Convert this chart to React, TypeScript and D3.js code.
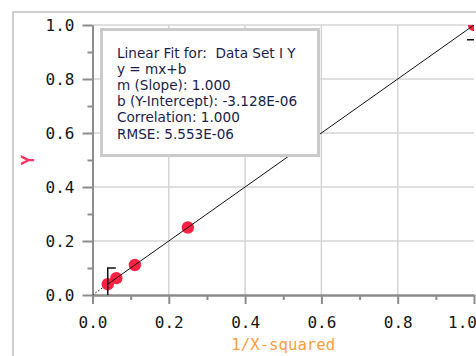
import React, { useEffect, useRef } from "react";
import * as d3 from "d3";

// Data Set I: 1/X-squared vs Y
const xValues = [1.0, 0.25, 0.1111, 0.0625, 0.04];
const yValues = [1.0, 0.25, 0.1111, 0.0625, 0.04];

const majorTicks = [0, 0.2, 0.4, 0.6, 0.8, 1.0];
const minorTicks = [0.1, 0.3, 0.5, 0.7, 0.9];

// linear fit result
const slope = 1.0;
const intercept = -3.128e-6;
const fitRange = [0.04, 1.0];

const legendLines = [
  "Linear Fit for:  Data Set I Y",
  "y = mx+b",
  "m (Slope): 1.000",
  "b (Y-Intercept): -3.128E-06",
  "Correlation: 1.000",
  "RMSE: 5.553E-06",
];

const App = () => {
  const svgRef = useRef<SVGSVGElement>(null);

  useEffect(() => {
    const W = 476;
    const H = 356;
    const left = 92.5;
    const right = 474;
    const top = 25;
    const bottom = 295;

    const svg = d3.select(svgRef.current).attr("width", W).attr("height", H);
    svg.selectAll("*").remove();

    const x = d3.scaleLinear().domain([0, 1]).range([left, right]);
    const y = d3.scaleLinear().domain([0, 1]).range([bottom, top]);

    svg.append("rect").attr("width", W).attr("height", H).attr("fill", "#fff");

    // outer frame
    svg
      .append("path")
      .attr("d", `M13,${H} V12 H${W}`)
      .attr("fill", "none")
      .attr("stroke", "#cfcfcf")
      .attr("stroke-width", 2);

    svg
      .append("clipPath")
      .attr("id", "plot-clip")
      .append("rect")
      .attr("x", left)
      .attr("y", top)
      .attr("width", right - left)
      .attr("height", bottom - top);

    // grid lines
    const grid = svg.append("g").attr("stroke", "#d4d4d4").attr("stroke-width", 1.5);
    grid
      .selectAll(".vgrid")
      .data(majorTicks.filter((d) => d > 0 && d < 1))
      .join("line")
      .attr("x1", (d) => x(d))
      .attr("x2", (d) => x(d))
      .attr("y1", top)
      .attr("y2", bottom);
    grid
      .selectAll(".hgrid")
      .data(majorTicks.filter((d) => d > 0))
      .join("line")
      .attr("x1", left)
      .attr("x2", right)
      .attr("y1", (d) => y(d))
      .attr("y2", (d) => y(d));

    const styleAxis = (g: any) => {
      g.select(".domain").attr("stroke", "#8c8c8c").attr("stroke-width", 2);
      g.selectAll(".tick line").attr("stroke", "#8c8c8c").attr("stroke-width", 2);
      g.selectAll(".tick text")
        .attr("fill", "#151515")
        .style("font-family", "'DejaVu Sans Mono', monospace")
        .style("font-size", "16px");
    };

    // minor ticks
    svg
      .append("g")
      .attr("transform", `translate(${left},0)`)
      .call(d3.axisLeft(y).tickValues(minorTicks).tickSize(5).tickFormat(() => "").tickSizeOuter(0))
      .call(styleAxis);
    svg
      .append("g")
      .attr("transform", `translate(0,${bottom})`)
      .call(d3.axisBottom(x).tickValues(minorTicks).tickSize(5).tickFormat(() => "").tickSizeOuter(0))
      .call(styleAxis);

    // major axes
    svg
      .append("g")
      .attr("transform", `translate(${left},0)`)
      .call(
        d3.axisLeft(y).tickValues(majorTicks).tickSize(10).tickPadding(8).tickSizeOuter(0).tickFormat(d3.format(".1f"))
      )
      .call(styleAxis);
    const xAxis = svg
      .append("g")
      .attr("transform", `translate(0,${bottom})`)
      .call(
        d3.axisBottom(x).tickValues(majorTicks).tickSize(9).tickPadding(13).tickSizeOuter(0).tickFormat(d3.format(".1f"))
      )
      .call(styleAxis);
    // last label is nudged left so it stays inside the window
    xAxis
      .selectAll<SVGTextElement, number>(".tick text")
      .filter((d) => d === 1)
      .attr("x", -12);

    const plot = svg.append("g").attr("clip-path", "url(#plot-clip)");

    // fit line: dotted outside the fit range, solid inside
    const fit = (v: number) => slope * v + intercept;
    plot
      .append("line")
      .attr("x1", x(0))
      .attr("y1", y(fit(0)))
      .attr("x2", x(fitRange[0]))
      .attr("y2", y(fit(fitRange[0])))
      .attr("stroke", "#111")
      .attr("stroke-width", 1)
      .attr("stroke-dasharray", "1.5,2");

    // points
    plot
      .selectAll(".pt")
      .data(xValues.map((v, i) => [v, yValues[i]]))
      .join("circle")
      .attr("cx", (d) => x(d[0]))
      .attr("cy", (d) => y(d[1]))
      .attr("r", 6.2)
      .attr("fill", "#ff2343");

    plot
      .append("line")
      .attr("x1", x(fitRange[0]))
      .attr("y1", y(fit(fitRange[0])))
      .attr("x2", x(fitRange[1]))
      .attr("y2", y(fit(fitRange[1])))
      .attr("stroke", "#111")
      .attr("stroke-width", 1);

    // fit range brackets
    const bracket = plot.append("g").attr("fill", "none").attr("stroke", "#111").attr("stroke-width", 1.5);
    bracket
      .append("path")
      .attr("d", `M${x(fitRange[0])},${y(0)} V${y(0.1)} H${x(fitRange[0]) + 8}`);
    bracket
      .append("path")
      .attr("d", `M${x(fitRange[1])},${y(0.945)} H${x(fitRange[1]) - 7}`);

    // legend box
    const lg = svg.append("g");
    lg.append("rect")
      .attr("x", 101.5)
      .attr("y", 29.5)
      .attr("width", 217)
      .attr("height", 126)
      .attr("fill", "#fff")
      .attr("stroke", "#cbcbcb")
      .attr("stroke-width", 3);
    lg.selectAll("text")
      .data(legendLines)
      .join("text")
      .attr("x", 117)
      .attr("y", (d, i) => 57.5 + i * 16.2)
      .attr("fill", "#1c1c48")
      .style("white-space", "pre")
      .style("font-family", "'DejaVu Sans', sans-serif")
      .style("font-size", "13.6px")
      .text((d) => d);

    // axis titles
    svg
      .append("text")
      .attr("transform", `translate(34,${(top + bottom) / 2}) rotate(-90)`)
      .attr("text-anchor", "middle")
      .attr("fill", "#ff3366")
      .style("font-family", "'DejaVu Sans Mono', monospace")
      .style("font-size", "17px")
      .style("font-weight", "bold")
      .text("Y");
    svg
      .append("text")
      .attr("x", (left + right) / 2)
      .attr("y", 350)
      .attr("text-anchor", "middle")
      .attr("fill", "#ff9d3f")
      .style("font-family", "'DejaVu Sans Mono', monospace")
      .style("font-size", "15.7px")
      .text("1/X-squared");
  }, []);

  return <svg ref={svgRef} style={{ position: "absolute", left: 0, top: 0 }}></svg>;
};

export default App;
